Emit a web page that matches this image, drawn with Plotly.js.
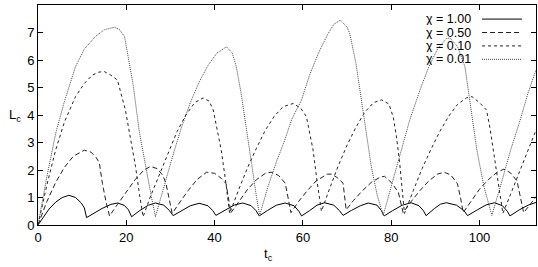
<!DOCTYPE html>
<html>
<head>
<meta charset="utf-8">
<script src="https://cdn.plot.ly/plotly-3.0.1.min.js"></script>
<style>
  html, body { margin: 0; padding: 0; background: #fff; }
  #grafico { width: 538px; height: 267px; }
</style>
</head>
<body>
<div id="grafico"></div>
<script>
// valores (t_c, L_c) para cada chi
const tc_100 = [0, 1, 2.5, 4, 5.5, 7, 8.5, 9.8, 10.5, 11.0, 12.5, 14.5, 16.5, 18.0, 19.5, 20.5, 21.2,
  23, 25, 26.6, 28.5, 29.8, 30.6, 32.5, 34.5, 36.5, 38.5, 39.6, 40.3, 42.5, 44.5, 46.4, 48.3, 49.4, 50.1,
  52, 54, 56.0, 58, 59.1, 59.7, 61.5, 63.2, 64.9, 67, 68.3, 69.1, 71, 73, 74.8, 76.8, 77.8, 78.4,
  80.3, 82.5, 84.5, 86.3, 87.3, 87.9, 89.8, 91.2, 92.5, 94.8, 96.5, 97.3, 99.5, 101.5, 103.4, 105.2,
  106.3, 106.9, 109, 111, 112.8];
const L_100 = [0, 0.25, 0.58, 0.83, 1.0, 1.08, 1.0, 0.8, 0.62, 0.27, 0.42, 0.6, 0.75, 0.80, 0.72, 0.55, 0.30,
  0.52, 0.72, 0.80, 0.72, 0.52, 0.34, 0.52, 0.70, 0.79, 0.70, 0.52, 0.35, 0.55, 0.73, 0.80, 0.70, 0.52, 0.33,
  0.53, 0.72, 0.80, 0.70, 0.50, 0.33, 0.52, 0.72, 0.81, 0.72, 0.52, 0.35, 0.53, 0.70, 0.80, 0.72, 0.52, 0.33,
  0.52, 0.72, 0.81, 0.70, 0.52, 0.34, 0.60, 0.76, 0.81, 0.72, 0.52, 0.34, 0.55, 0.73, 0.81, 0.70,
  0.50, 0.33, 0.55, 0.72, 0.82];

const tc_050 = [0, 2, 4, 6, 8, 10.5, 12, 13.2, 13.9, 14.6, 15.4, 16.2,
  18, 20, 22, 24, 25.5, 27, 28.3, 29, 29.7, 30.4,
  32, 34, 36, 38.2, 40, 41.5, 42.6, 43.1, 43.7,
  45.5, 47.5, 49.5, 51.5, 52.8, 54.5, 56, 56.6, 57.3,
  59, 61, 63, 65.5, 66.5, 67.8, 69.1, 69.4, 69.8,
  71.5, 73.5, 75.5, 77.5, 78.5, 80, 81.6, 82.1, 82.7,
  84.5, 86.5, 88.5, 90.5, 92, 93.5, 95, 95.7, 96.3,
  98, 100, 102, 104, 105.5, 107, 108.5, 109.2, 110,
  111.5, 112.8];
const L_050 = [0, 0.85, 1.55, 2.1, 2.5, 2.72, 2.65, 2.45, 2.25, 1.5, 0.85, 0.33,
  0.75, 1.2, 1.65, 2.0, 2.13, 2.05, 1.8, 1.5, 1.0, 0.42,
  0.8, 1.25, 1.65, 1.92, 1.88, 1.7, 1.5, 1.0, 0.45,
  0.85, 1.3, 1.65, 1.88, 1.92, 1.8, 1.52, 1.0, 0.45,
  0.85, 1.25, 1.6, 1.85, 1.85, 1.72, 1.52, 1.1, 0.55,
  0.9, 1.25, 1.55, 1.74, 1.77, 1.55, 1.2, 0.8, 0.45,
  0.85, 1.25, 1.6, 1.85, 1.92, 1.82, 1.5, 1.0, 0.45,
  0.85, 1.3, 1.65, 1.92, 2.03, 1.9, 1.6, 1.0, 0.45,
  0.75, 1.03];

const tc_010 = [0, 2, 4, 6, 8.5, 10.5, 12.3, 13.8, 15, 16.5, 18, 19.8, 21, 22.1, 23, 23.8,
  25.5, 27.5, 29.5, 31.5, 33.5, 35.5, 37.4, 38.8, 39.7, 40.6, 41.5, 42.5, 43.4,
  45.5, 47.5, 49.5, 51.5, 53.5, 55.5, 57.8, 59.5, 60.8, 61.6, 62.3, 63.2, 64.2,
  66, 68, 70, 72, 74, 76, 77.8, 79.5, 80.5, 81.2, 81.9, 82.5, 83.0,
  85, 87, 89, 91, 93, 95, 97, 98.3, 100, 101.6, 102.4, 103.1, 104.2, 105.3,
  107, 109, 111, 112.8];
const L_010 = [0, 1.45, 2.73, 3.75, 4.67, 5.15, 5.45, 5.56, 5.58, 5.45, 5.27, 4.18, 3.1, 2.12, 1.1, 0.3,
  1.05, 1.85, 2.65, 3.4, 4.0, 4.45, 4.62, 4.5, 4.18, 3.5, 2.73, 1.6, 0.42,
  1.3, 2.1, 2.8, 3.45, 3.95, 4.3, 4.42, 4.25, 3.94, 3.3, 2.73, 1.6, 0.5,
  1.3, 2.15, 2.9, 3.55, 4.1, 4.45, 4.55, 4.4, 3.9, 3.2, 2.3, 1.3, 0.42,
  1.25, 2.05, 2.75, 3.4, 3.95, 4.38, 4.62, 4.67, 4.45, 4.18, 3.5, 2.73, 1.5, 0.42,
  1.1, 1.9, 2.7, 3.45];

const tc_001 = [0, 2, 4, 6, 8.5, 10.5, 13.0, 15, 17.3, 18.5, 19.6, 20.5, 21.5, 23.0, 24.5, 25.6, 26.6,
  28.5, 30.5, 32.5, 34.5, 36.5, 38.5, 40.5, 42.7, 44, 44.9, 46, 47.2, 48.5, 49.5, 50.2,
  52, 54, 55.9, 57.5, 59.7, 61.5, 63.5, 65.5, 67, 68.5, 70, 70.6, 72, 73.3, 74.4, 75.5, 76.8, 78.2,
  80, 82, 84.2, 86.5, 88.5, 90.5, 92.5, 93.3, 95, 96.7, 98, 99.4, 101, 102.8,
  105, 107, 109, 111, 112.8];
const L_001 = [0, 1.75, 3.33, 4.5, 5.76, 6.4, 6.85, 7.1, 7.19, 7.1, 6.85, 6.1, 5.15, 3.34, 2.0, 1.1, 0.3,
  1.4, 2.5, 3.55, 4.45, 5.2, 5.8, 6.25, 6.48, 6.25, 5.76, 4.8, 3.58, 2.1, 1.0, 0.35,
  1.35, 2.3, 3.09, 3.85, 4.55, 5.45, 6.24, 6.9, 7.3, 7.45, 7.2, 6.97, 5.9, 4.55, 3.3, 2.12, 1.1, 0.35,
  1.4, 2.55, 3.82, 4.9, 5.75, 6.4, 6.78, 6.8, 6.5, 5.76, 4.3, 2.73, 1.4, 0.35,
  1.55, 2.7, 3.7, 4.8, 5.64];

const etiquetas = ['\u03C7 = 1.00', '\u03C7 = 0.50', '\u03C7 = 0.10', '\u03C7 = 0.01'];
const xTicks = [0, 20, 40, 60, 80, 100];
const yTicks = [0, 1, 2, 3, 4, 5, 6, 7, 8];

const estilos = [
  { color: '#000', dash: 'solid' },
  { color: '#222', dash: '5px,3px' },
  { color: '#222', dash: '3px,3px' },
  { color: '#444', dash: '1px,1px' }
];

const series = [[tc_100, L_100], [tc_050, L_050], [tc_010, L_010], [tc_001, L_001]];

const data = series.map((s, i) => ({
  type: 'scatter',
  mode: 'lines',
  x: s[0],
  y: s[1],
  name: etiquetas[i],
  line: { color: estilos[i].color, width: 1, dash: estilos[i].dash },
  showlegend: false
}));

// leyenda al estilo gnuplot: texto a la izquierda, muestra de linea a la derecha
const filasY = [0.936, 0.875, 0.814, 0.753];
const annotations = etiquetas.map((t, i) => ({
  xref: 'paper', yref: 'paper', x: 0.8715, y: filasY[i],
  xanchor: 'right', yanchor: 'middle', text: t, showarrow: false,
  height: 12, borderpad: 0,
  font: { size: 12.5, color: '#000' }
}));
annotations.push({
  xref: 'paper', yref: 'paper', x: -0.046, y: 0.5, xanchor: 'center', yanchor: 'middle',
  text: 'L<sub>c</sub>', showarrow: false, font: { size: 13, color: '#000' }
});
annotations.push({
  xref: 'paper', yref: 'paper', x: 0.462, y: -0.135, xanchor: 'center', yanchor: 'middle',
  text: 't<sub>c</sub>', showarrow: false, font: { size: 13, color: '#000' }
});

const shapes = estilos.map((e, i) => ({
  type: 'line', xref: 'paper', yref: 'paper',
  x0: 0.8916, x1: 0.972, y0: filasY[i], y1: filasY[i],
  line: { color: e.color, width: 1, dash: e.dash }
}));

const ejeComun = {
  showgrid: false, zeroline: false, showline: true, mirror: 'ticks',
  linecolor: '#000', linewidth: 1, ticks: 'inside', ticklen: 5,
  tickcolor: '#000', tickfont: { size: 13, color: '#000' }
};

const layout = {
  width: 538, height: 267,
  margin: { l: 38, r: 2, t: 5, b: 42 },
  paper_bgcolor: '#fff', plot_bgcolor: '#fff',
  font: { family: 'Liberation Sans, Arial, sans-serif', size: 13, color: '#000' },
  xaxis: Object.assign({}, ejeComun, { range: [0, 112.8], tickvals: xTicks, ticktext: xTicks.map(String) }),
  yaxis: Object.assign({}, ejeComun, { range: [0, 8], tickvals: yTicks, ticktext: yTicks.map(String) }),
  annotations: annotations,
  shapes: shapes
};

Plotly.newPlot('grafico', data, layout, { staticPlot: true, displayModeBar: false });
</script>
</body>
</html>
